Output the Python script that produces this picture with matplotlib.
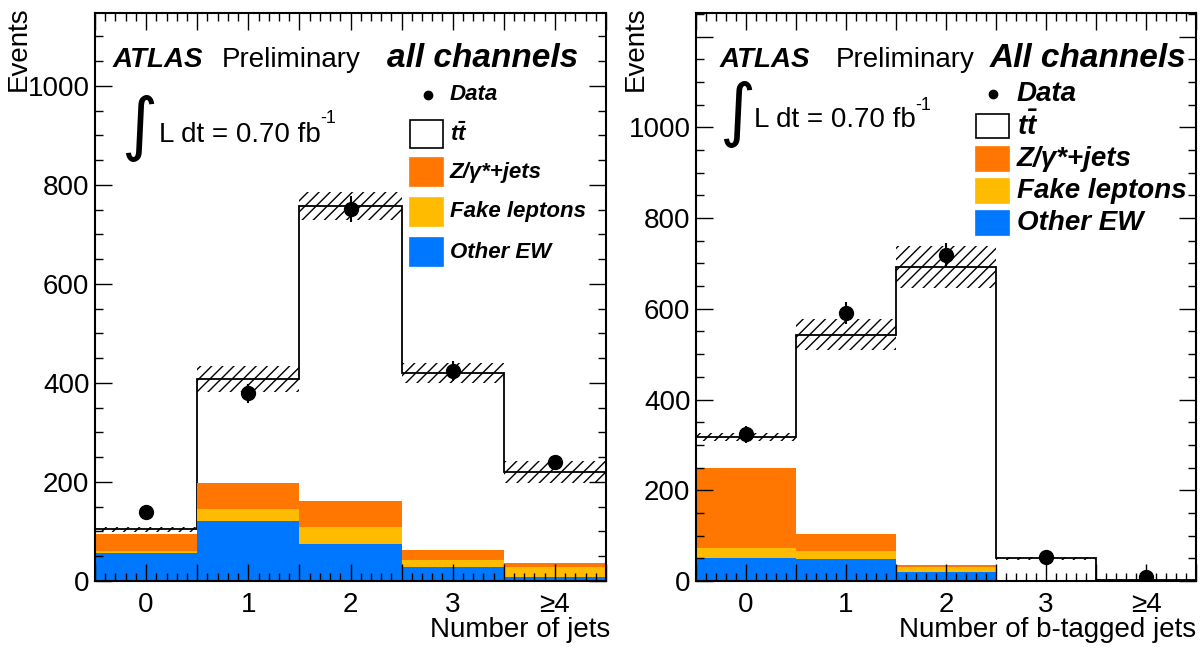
import numpy as np
import matplotlib
matplotlib.use('Agg')
import matplotlib.pyplot as plt
from matplotlib import rcParams, ticker
from matplotlib.patches import Rectangle
from matplotlib.lines import Line2D

rcParams['font.family'] = ['Liberation Sans', 'DejaVu Sans']
rcParams['mathtext.fontset'] = 'custom'
rcParams['mathtext.it'] = 'Liberation Sans:bold:italic'
rcParams['mathtext.rm'] = 'Liberation Sans:bold:italic'
rcParams['mathtext.bf'] = 'Liberation Sans:bold:italic'
rcParams['hatch.linewidth'] = 1.0

W, H = 1202, 650

# bin labels shared by both panels
bin_labels = ['0', '1', '2', '3', '≥4']

# left panel: number of jets
jets_other_ew = [56, 122, 75, 28, 9]
jets_fake = [5, 23, 35, 14, 20]
jets_zjets = [34, 52, 52, 21, 8]
jets_ttbar = [9, 211, 595, 357, 183]
jets_band = [6, 27, 28, 21, 22]
jets_data = [139, 379, 751, 424, 240]
jets_data_err = [12, 19, 27, 21, 15]

# right panel: number of b-tagged jets
btag_other_ew = [51, 48, 20, 0.5, 0.2]
btag_fake = [22, 19, 10, 1, 0.2]
btag_zjets = [177, 37, 5, 0.5, 0.1]
btag_ttbar = [68, 439, 657, 48, 2.5]
btag_band = [9, 34, 46, 3, 1]
btag_data = [323, 590, 719, 54, 9]
btag_data_err = [18, 24, 27, 7, 3]

c_z = '#ff7700'
c_fake = '#ffbb00'
c_ew = '#0077ff'


def px(x, y):
    # figure pixel coords (from top-left) -> figure fraction
    return x / W, 1 - y / H


def draw_panel(ax, other, fake, zjets, ttbar, band, data, data_err, ymax):
    x = np.arange(len(bin_labels))
    edges = np.arange(len(bin_labels) + 1) - 0.5
    s1 = np.array(other, dtype=float)
    s2 = s1 + np.array(fake)
    s3 = s2 + np.array(zjets)
    total = s3 + np.array(ttbar)
    band = np.array(band, dtype=float)

    ax.bar(x, total, width=1, color='white', linewidth=0, zorder=1)
    ax.stairs(total, edges, color='black', linewidth=1.3, zorder=1.1)
    ax.bar(x, s3, width=1, color=c_z, linewidth=0, zorder=1.2)
    ax.bar(x, s2, width=1, color=c_fake, linewidth=0, zorder=1.2)
    ax.bar(x, s1, width=1, color=c_ew, linewidth=0, zorder=1.2)
    ax.bar(x, 2 * band, bottom=total - band, width=1, fill=False, hatch='///',
           edgecolor='black', linewidth=0, zorder=1.3)
    ax.errorbar(x, data, yerr=data_err, fmt='o', color='black', ms=10,
                elinewidth=1.5, capsize=0, zorder=3)

    ax.set_xlim(-0.5, 4.5)
    ax.set_ylim(0, ymax)
    ax.set_axisbelow(False)
    ax.xaxis.set_major_locator(ticker.MultipleLocator(0.5))
    ax.xaxis.set_minor_locator(ticker.MultipleLocator(0.1))
    ax.xaxis.set_major_formatter(ticker.FuncFormatter(
        lambda v, p: bin_labels[int(round(v))]
        if abs(v - round(v)) < 1e-6 and 0 <= round(v) < len(bin_labels) else ''))
    ax.yaxis.set_major_locator(ticker.MultipleLocator(200))
    ax.yaxis.set_minor_locator(ticker.MultipleLocator(50))
    ax.yaxis.set_major_formatter(ticker.FuncFormatter(
        lambda v, p: '%d' % v if v <= 1000 else ''))
    ax.tick_params(which='both', direction='in', top=True, right=True, width=1)
    ax.tick_params(which='major', length=12)
    ax.tick_params(which='minor', length=6)
    ax.tick_params(axis='x', labelsize=20, pad=8)
    ax.tick_params(axis='y', labelsize=20, pad=4)
    for s in ax.spines.values():
        s.set_linewidth(1.5)


def draw_legend(fig, x_box, x_txt, y_rows, box_h, fs, dot_x):
    kw = dict(fontsize=fs, fontweight='bold', fontstyle='italic', va='center')
    fig.add_artist(Line2D([px(dot_x, 0)[0]], [px(0, y_rows[0])[1]], marker='o',
                          color='black', ms=6, transform=fig.transFigure))
    fig.text(*px(x_txt, y_rows[0]), 'Data', **kw)
    names = [r'$t\bar{t}$', 'Z/γ*+jets', 'Fake leptons', 'Other EW']
    fills = ['white', c_z, c_fake, c_ew]
    for name, fc, yc in zip(names, fills, y_rows[1:]):
        x0, y0 = px(x_box, yc + box_h / 2)
        fig.add_artist(Rectangle((x0, y0), 33 / W, box_h / H, facecolor=fc,
                                 edgecolor='black' if fc == 'white' else fc,
                                 linewidth=1.2, transform=fig.transFigure))
        fig.text(*px(x_txt, yc), name, **kw)


fig = plt.figure(figsize=(W / 100, H / 100), dpi=100)
ax1 = fig.add_axes([95 / W, 69 / H, 511 / W, 568 / H])
ax2 = fig.add_axes([696 / W, 69 / H, 500 / W, 568 / H])

draw_panel(ax1, jets_other_ew, jets_fake, jets_zjets, jets_ttbar, jets_band,
           jets_data, jets_data_err, 1147)
draw_panel(ax2, btag_other_ew, btag_fake, btag_zjets, btag_ttbar, btag_band,
           btag_data, btag_data_err, 1252)

# titles
for x_atlas, x_prel, x_ch, label in [(113, 222, 387, 'all channels'),
                                     (720, 836, 990, 'All channels')]:
    fig.text(*px(x_atlas, 67), 'ATLAS', fontsize=20, fontweight='bold',
             fontstyle='italic', va='baseline')
    fig.text(*px(x_prel, 67), 'Preliminary', fontsize=20, va='baseline')
    fig.text(*px(x_ch, 67), label, fontsize=24, fontweight='bold',
             fontstyle='italic', va='baseline')

# luminosity
for xi, yi, xt, yt, xs, ys in [(139, 128, 159, 142, 320, 123),
                               (737, 114, 754, 127, 915, 110)]:
    fig.text(*px(xi, yi), '∫', fontsize=50, ha='center', va='center',
             family=['DejaVu Sans'])
    fig.text(*px(xt, yt), 'L dt = 0.70 fb', fontsize=20, va='baseline')
    fig.text(*px(xs, ys), '-1', fontsize=13, va='baseline')

draw_legend(fig, 410, 450, [95, 134, 172, 212, 252], 28, 16, 428)
draw_legend(fig, 976, 1017, [94, 126, 159, 191, 223], 24, 20, 993)

# axis titles
fig.text(*px(19, 6), 'Events', fontsize=20, rotation=90, ha='center', va='top')
fig.text(*px(636, 6), 'Events', fontsize=20, rotation=90, ha='center', va='top')
fig.text(*px(610, 637), 'Number of jets', fontsize=20, ha='right', va='baseline')
fig.text(*px(1196, 637), 'Number of b-tagged jets', fontsize=20, ha='right',
         va='baseline')

plt.savefig('out.png', dpi=100)
